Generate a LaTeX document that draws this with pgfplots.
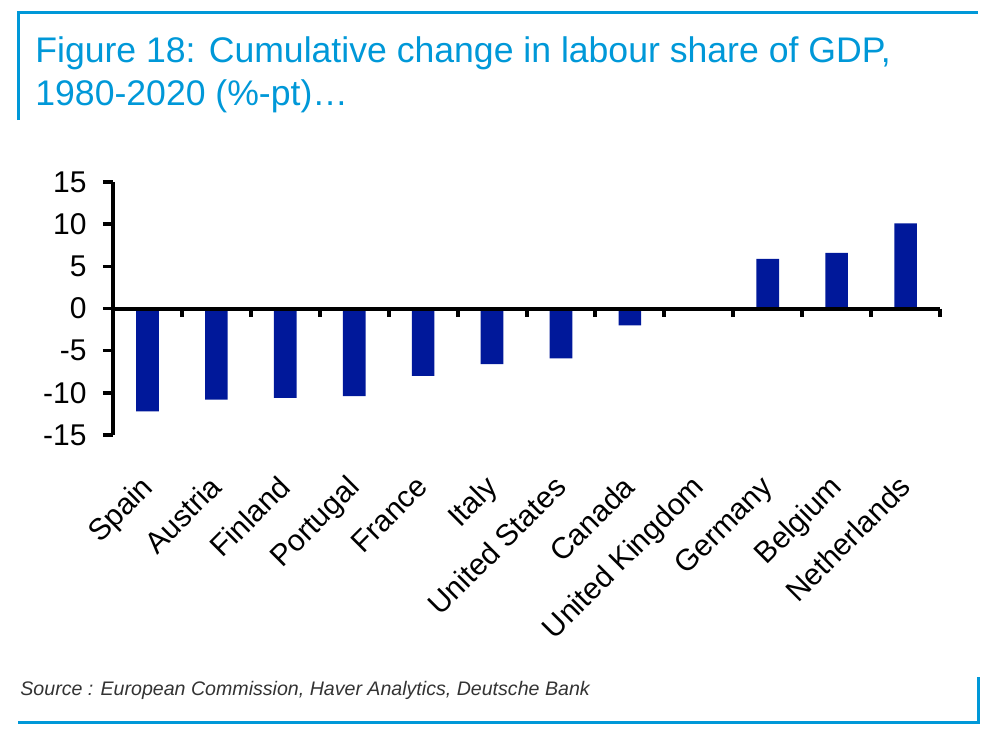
\documentclass[border=0pt]{standalone}
\usepackage{pgfplots}
\pgfplotsset{compat=1.18}
\usepackage{fontspec}
\setmainfont{Liberation Sans}
\definecolor{dbblue}{HTML}{0098D8}
\definecolor{barblue}{HTML}{00189A}
\pgfplotstableread{
idx value
0 -12.2
1 -10.8
2 -10.6
3 -10.4
4 -8.0
5 -6.6
6 -5.9
7 -2.0
8 0
9 5.9
10 6.6
11 10.1
}\datatable
\begin{document}
\begin{tikzpicture}[x=0.5pt,y=-0.5pt]
\useasboundingbox (0,0) rectangle (1000,744);
% frame
\draw[dbblue, line width=1.5pt] (18,120) -- (18,12) -- (978,12);
\draw[dbblue, line width=1.5pt] (18,722) -- (978,722) -- (978,677);
% title
\node[anchor=base west, inner sep=0pt, text=dbblue, font=\fontsize{17.8}{20}\selectfont] at (35,62) {Figure 18: Cumulative change in labour share of GDP,};
\node[anchor=base west, inner sep=0pt, text=dbblue, font=\fontsize{17.8}{20}\selectfont] at (35,105) {1980-2020 (\%-pt)\ldots};
% source
\node[anchor=base west, inner sep=0pt, text=black!80, font=\fontsize{9.8}{12}\selectfont\itshape] at (20,695) {Source : European Commission, Haver Analytics, Deutsche Bank};
\begin{axis}[
  at={(56.5pt,-217.5pt)}, anchor=south west,
  scale only axis, width=413.5pt, height=126.5pt,
  xmin=-0.5, xmax=11.5, ymin=-15, ymax=15,
  axis x line=bottom, axis y line=left,
  x axis line style={draw=none, -},
  y axis line style={line width=1.7pt, -},
  ytick={-15,-10,...,15},
  xtick={0,...,11},
  xticklabels={Spain,Austria,Finland,Portugal,France,Italy,United States,Canada,United Kingdom,Germany,Belgium,Netherlands},
  x tick style={draw=none},
  y tick style={line width=1.7pt, black},
  tick align=outside,
  major tick length=5pt,
  /pgf/number format/assume math mode=true,
  yticklabel style={font=\fontsize{15}{15}\selectfont, inner sep=2pt, xshift=-6pt},
  xticklabel style={font=\fontsize{15}{15}\selectfont, rotate=45, anchor=north east, inner sep=1pt, xshift=-12pt, yshift=-6pt},
  clip=false,
]
\addplot[ybar, bar width=11.3pt, fill=barblue, draw=none] table[x=idx, y=value] {\datatable};
\draw[line width=2pt] (axis cs:-0.5,0) -- (axis cs:11.5,0);
\pgfplotsinvokeforeach{0.5,1.5,2.5,3.5,4.5,5.5,6.5,7.5,8.5,9.5,10.5,11.5}{
  \draw[line width=2pt] (axis cs:#1,0) -- ++(0pt,-4pt);
}
\end{axis}
\end{tikzpicture}
\end{document}
